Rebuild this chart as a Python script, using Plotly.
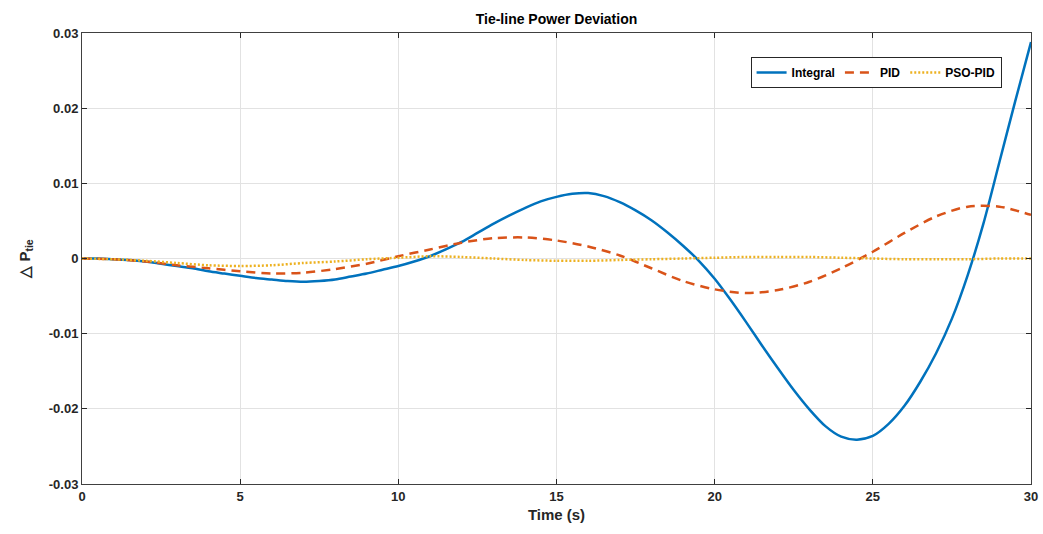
import plotly.graph_objects as go

# Time axis (s): half-second samples for the Integral response, one-second for the others
time_half = [0.5 * i for i in range(61)]
time_full = list(range(0, 31))

# Tie-line power deviation for each controller
integral = [0.0, 0.0000, -0.0001, -0.0002, -0.0004, -0.0007, -0.0010, -0.0013,
            -0.0017, -0.0020, -0.0023, -0.0026, -0.0028, -0.0030, -0.0031, -0.0030,
            -0.0028, -0.0024, -0.0020, -0.0015, -0.0010, -0.0004, 0.0003, 0.0012,
            0.0022, 0.0034, 0.0046, 0.0057, 0.0067, 0.0076, 0.0082, 0.0086,
            0.0087, 0.0083, 0.0075, 0.0064, 0.0051, 0.0035, 0.0017, -0.0003,
            -0.0027, -0.0055, -0.0085, -0.0116, -0.0146, -0.0175, -0.0201, -0.0223,
            -0.0237, -0.0241, -0.0236, -0.0220, -0.0196, -0.0164, -0.0126, -0.0080,
            -0.0022, 0.0047, 0.0128, 0.0209, 0.0288]
pid = [0.0, -0.0001, -0.0004, -0.0009, -0.0013, -0.0017, -0.0020, -0.0019,
       -0.0014, -0.0007, 0.0003, 0.0012, 0.0021, 0.0027, 0.0028, 0.0024,
       0.0016, 0.0004, -0.0013, -0.0030, -0.0041, -0.0046, -0.0042, -0.0031,
       -0.0013, 0.0009, 0.0034, 0.0056, 0.0069, 0.0069, 0.0058]
pso_pid = [0.0, -0.0001, -0.0003, -0.0006, -0.0009, -0.0010, -0.0009, -0.0006,
           -0.0004, -0.0001, 0.0001, 0.0003, 0.0002, 0.0000, -0.0002, -0.0003,
           -0.0003, -0.0002, -0.0001, 0.0000, 0.0001, 0.0002, 0.0002, 0.0002,
           0.0001, 0.0000, -0.0001, -0.0001, -0.0001, 0.0000, 0.0000]

x_ticks = [0, 5, 10, 15, 20, 25, 30]
y_ticks = [-0.03, -0.02, -0.01, 0, 0.01, 0.02, 0.03]
y_tick_text = ["-0.03", "-0.02", "-0.01", "0", "0.01", "0.02", "0.03"]

FONT = "Liberation Sans, Arial, sans-serif"

fig = go.Figure()
fig.add_trace(go.Scatter(x=time_half, y=integral, name="<b>Integral</b>", mode="lines",
                         line=dict(color="#0072BD", width=2.5, shape="spline", smoothing=0.8)))
fig.add_trace(go.Scatter(x=time_full, y=pid, name="<b>PID</b>", mode="lines",
                         line=dict(color="#D95319", width=2.5, dash="9px,6px",
                                   shape="spline", smoothing=0.8)))
fig.add_trace(go.Scatter(x=time_full, y=pso_pid, name="<b>PSO-PID</b>", mode="lines",
                         line=dict(color="#EDB120", width=2.5, dash="2px,2px",
                                   shape="spline", smoothing=0.8)))

axis_common = dict(
    showline=True, linecolor="#404040", linewidth=1, mirror="ticks",
    ticks="inside", ticklen=5, tickcolor="#262626", tickwidth=1,
    showgrid=True, gridcolor="#e2e2e2", gridwidth=1, zeroline=False,
    automargin=False,
    tickfont=dict(family=FONT, size=13, color="#262626", weight="bold"),
)

fig.update_layout(
    width=1043, height=534,
    margin=dict(l=82, r=12, t=33, b=50),
    paper_bgcolor="white", plot_bgcolor="white",
    font=dict(family=FONT, color="#262626"),
    title=dict(text="<b>Tie-line Power Deviation</b>", x=0.5, xanchor="center",
               xref="paper", y=0.965, yanchor="middle",
               font=dict(family=FONT, size=14, color="#000000")),
    xaxis=dict(range=[0, 30], tickvals=x_ticks,
               title=dict(text="<b>Time (s)</b>", standoff=6,
                          font=dict(family=FONT, size=15, color="#262626")),
               **axis_common),
    yaxis=dict(range=[-0.03, 0.03], tickvals=y_ticks, ticktext=y_tick_text,
               title=dict(text="<b>\u25b3 P<sub>tie</sub></b>", standoff=14,
                          font=dict(family=FONT, size=15, color="#262626")),
               **axis_common),
    legend=dict(orientation="h", x=0.969, xanchor="right", y=0.947, yanchor="top",
                bgcolor="white", bordercolor="#262626", borderwidth=1,
                font=dict(family=FONT, size=12, color="#000000"),
                itemwidth=30),
    showlegend=True,
)

fig.write_html("out.html")
